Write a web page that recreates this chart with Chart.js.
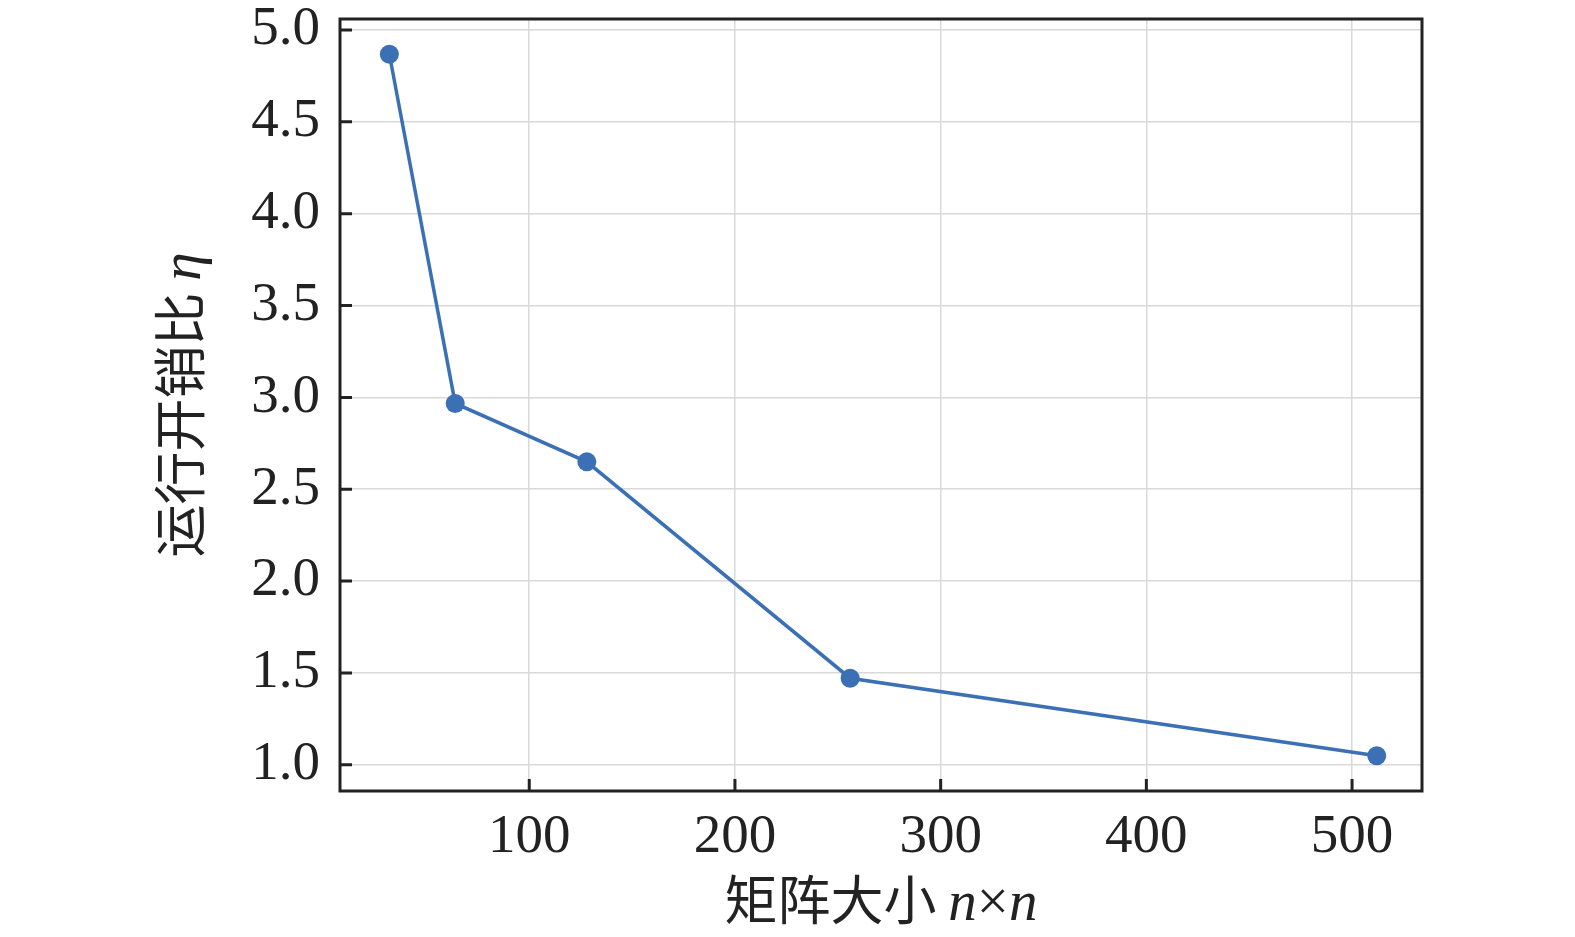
<!DOCTYPE html>
<html>
<head>
<meta charset="utf-8">
<script src="https://cdn.jsdelivr.net/npm/chart.js@4.4.0/dist/chart.umd.min.js"></script>
<style>
html,body{margin:0;padding:0;background:#fff;}
#wrap{width:1575px;height:937px;}
</style>
</head>
<body>
<div id="wrap"><canvas id="c" width="1575" height="937"></canvas></div>
<script>
const matrixSizes = [32, 64, 128, 256, 512];
const overheadRatio = [4.868, 2.967, 2.649, 1.471, 1.049];
const xTickValues = [100, 200, 300, 400, 500];
const yTickValues = [1.0, 1.5, 2.0, 2.5, 3.0, 3.5, 4.0, 4.5, 5.0];
const xTitleParts = [['矩阵大小 ', 'cjk'], ['n', 'it'], ['×', 'rm'], ['n', 'it']];
const yTitleParts = [['运行开销比 ', 'cjk'], ['η', 'it']];

const FRAME = '#222222';
const LINE = '#3b70b4';
const fonts = {
  cjk: '53px "Noto Sans CJK SC"',
  it: 'italic 57px "Liberation Serif"',
  rm: '57px "Liberation Serif"'
};

function drawParts(ctx, parts, cx, cy) {
  let total = 0;
  const widths = parts.map(p => { ctx.font = fonts[p[1]]; const w = ctx.measureText(p[0]).width; total += w; return w; });
  let x = cx - total / 2;
  ctx.textBaseline = 'alphabetic';
  ctx.textAlign = 'left';
  parts.forEach((p, i) => { ctx.font = fonts[p[1]]; ctx.fillText(p[0], x, cy); x += widths[i]; });
}

const framePlugin = {
  id: 'frame',
  afterDraw(chart) {
    const ctx = chart.ctx;
    const a = chart.chartArea;
    const xs = chart.scales.x, ys = chart.scales.y;
    ctx.save();
    ctx.strokeStyle = FRAME;
    ctx.lineWidth = 3;
    ctx.strokeRect(a.left, a.top, a.right - a.left, a.bottom - a.top);
    ctx.beginPath();
    xTickValues.forEach(v => { const px = xs.getPixelForValue(v); ctx.moveTo(px, a.bottom); ctx.lineTo(px, a.bottom - 12); });
    yTickValues.forEach(v => { const py = ys.getPixelForValue(v); ctx.moveTo(a.left, py); ctx.lineTo(a.left + 12, py); });
    ctx.stroke();
    ctx.fillStyle = FRAME;
    drawParts(ctx, xTitleParts, (a.left + a.right) / 2, 920);
    ctx.translate(200, (a.top + a.bottom) / 2);
    ctx.rotate(-Math.PI / 2);
    drawParts(ctx, yTitleParts, 0, 0);
    ctx.restore();
  }
};

new Chart(document.getElementById('c'), {
  type: 'scatter',
  data: {
    datasets: [{
      data: matrixSizes.map((x, i) => ({ x: x, y: overheadRatio[i] })),
      showLine: true,
      borderColor: LINE,
      backgroundColor: LINE,
      borderWidth: 3.5,
      pointRadius: 9.5,
      pointHoverRadius: 9.5,
      pointBorderWidth: 0,
      tension: 0
    }]
  },
  options: {
    responsive: false,
    devicePixelRatio: 1,
    animation: false,
    layout: { padding: { top: 19, right: 153, left: 0, bottom: 0 } },
    plugins: { legend: { display: false }, tooltip: { enabled: false } },
    scales: {
      x: {
        type: 'linear',
        min: 8, max: 534,
        afterBuildTicks: s => { s.ticks = xTickValues.map(v => ({ value: v })); },
        afterFit: s => { s.height = 146; s.paddingLeft = 0; s.paddingRight = 0; },
        grid: { color: '#d9d9d9', lineWidth: 1.5, drawTicks: false },
        border: { display: false },
        ticks: { font: { family: 'Liberation Serif', size: 55 }, color: FRAME, padding: 14, maxRotation: 0 }
      },
      y: {
        type: 'linear',
        min: 0.857, max: 5.06,
        afterBuildTicks: s => { s.ticks = yTickValues.map(v => ({ value: v })); },
        afterFit: s => { s.width = 340; s.paddingTop = 0; s.paddingBottom = 0; },
        grid: { color: '#d9d9d9', lineWidth: 1.5, drawTicks: false },
        border: { display: false },
        ticks: { font: { family: 'Liberation Serif', size: 55 }, color: FRAME, padding: 20, callback: v => Number(v).toFixed(1) }
      }
    }
  },
  plugins: [framePlugin]
});
</script>
</body>
</html>
